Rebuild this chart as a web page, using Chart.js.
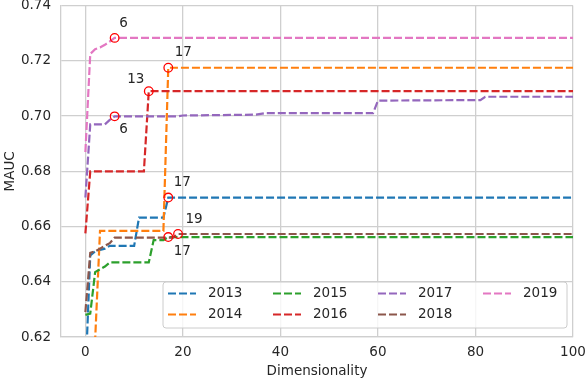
<!DOCTYPE html>
<html><head><meta charset="utf-8">
<script src="https://cdn.jsdelivr.net/npm/chart.js@4/dist/chart.umd.min.js"></script>
<style>html,body{margin:0;padding:0;background:#fff}#wrap{width:586px;height:380px;position:relative}</style>
</head><body><div id="wrap"><canvas id="c" width="586" height="380"></canvas></div>
<script>
// ---- data ----
const years = ['2013', '2014', '2015', '2016', '2017', '2018', '2019'];
const dims2013 = [0, 1, 2, 3, 4, 5, 10, 11, 16, 17, 100];
const mauc2013 = [0.605, 0.6495, 0.651, 0.6515, 0.652, 0.653, 0.653, 0.6632, 0.6632, 0.6705, 0.6705];
const dims2014 = [0, 1, 2, 3, 16, 17, 100];
const mauc2014 = [0.590, 0.600, 0.619, 0.6584, 0.6584, 0.7175, 0.7175];
const dims2015 = [0, 1, 2, 3, 4, 5, 13, 14, 16, 17, 100];
const mauc2015 = [0.628, 0.6285, 0.6435, 0.6445, 0.6455, 0.647, 0.647, 0.6551, 0.6551, 0.6562, 0.6562];
const dims2016 = [0, 1, 12, 13, 100];
const mauc2016 = [0.6575, 0.680, 0.680, 0.709, 0.709];
const dims2017 = [0, 1, 4, 5, 6, 19, 20, 35, 37, 59, 60, 81, 82, 100];
const mauc2017 = [0.6705, 0.697, 0.697, 0.6986, 0.6999, 0.6999, 0.7002, 0.7005, 0.7011, 0.7011, 0.7056, 0.7058, 0.707, 0.707];
const dims2018 = [0, 1, 2, 3, 4, 5, 6, 18, 19, 100];
const mauc2018 = [0.629, 0.6505, 0.651, 0.652, 0.653, 0.654, 0.656, 0.656, 0.6573, 0.6573];
const dims2019 = [0, 1, 2, 3, 4, 5, 6, 100];
const mauc2019 = [0.687, 0.7225, 0.7242, 0.7248, 0.7258, 0.727, 0.7283, 0.7283];
// best dimensionality marked on each curve
const bestDims = [17, 17, 17, 13, 6, 19, 6];
const bestLabels = ['17', '17', '17', '13', '6', '19', '6'];
const xTickValues = [0, 20, 40, 60, 80, 100];
const yTickValues = [0.62, 0.64, 0.66, 0.68, 0.70, 0.72, 0.74];

// ---- styling ----
const colors = ['#1f77b4', '#ff7f0e', '#2ca02c', '#d62728', '#9467bd', '#8c564b', '#e377c2'];
const labelOffsets = [[14, -15], [15, -15], [14, 14], [-13, -12], [9, 13], [16, -14], [9, -14]];
const FONT = 'DejaVu Sans';
const TEXT = '#262626';
const GRID = '#cfcfcf';

const allDims = [dims2013, dims2014, dims2015, dims2016, dims2017, dims2018, dims2019];
const allMauc = [mauc2013, mauc2014, mauc2015, mauc2016, mauc2017, mauc2018, mauc2019];

const datasets = years.map((y, i) => ({
  label: y,
  data: allDims[i].map((d, k) => ({x: d, y: allMauc[i][k]})),
  borderColor: colors[i],
  backgroundColor: colors[i],
  borderWidth: 2.2,
  borderDash: [8, 3],
  pointRadius: 0,
  tension: 0,
  fill: false,
  order: 20 - i
}));
const markerPts = years.map((y, i) => {
  const k = allDims[i].indexOf(bestDims[i]);
  return {x: bestDims[i], y: allMauc[i][k]};
});
datasets.push({
  label: 'best',
  type: 'scatter',
  data: markerPts,
  showLine: false,
  pointRadius: 4.3,
  pointHoverRadius: 4.3,
  pointBorderWidth: 1.3,
  pointBorderColor: '#ff0000',
  pointBackgroundColor: 'rgba(0,0,0,0)',
  order: 0
});

const overlay = {
  id: 'overlay',
  afterDraw(chart) {
    const ctx = chart.ctx, xs = chart.scales.x, ys = chart.scales.y;
    ctx.save();
    // annotation text
    ctx.font = '13.5px "' + FONT + '"';
    ctx.fillStyle = TEXT;
    ctx.textAlign = 'center';
    ctx.textBaseline = 'middle';
    markerPts.forEach((p, i) => {
      const px = xs.getPixelForValue(p.x) + labelOffsets[i][0];
      const py = ys.getPixelForValue(p.y) + labelOffsets[i][1];
      ctx.fillText(bestLabels[i], px, py);
    });
    // legend (4 columns, column-major)
    const bx = 163, by = 282, bw = 404, bh = 46, r = 3;
    ctx.beginPath();
    ctx.moveTo(bx + r, by);
    ctx.arcTo(bx + bw, by, bx + bw, by + bh, r);
    ctx.arcTo(bx + bw, by + bh, bx, by + bh, r);
    ctx.arcTo(bx, by + bh, bx, by, r);
    ctx.arcTo(bx, by, bx + bw, by, r);
    ctx.closePath();
    ctx.fillStyle = 'rgba(255,255,255,0.8)';
    ctx.fill();
    ctx.strokeStyle = '#cccccc';
    ctx.lineWidth = 1;
    ctx.stroke();
    const colX = [168, 273, 378, 483];
    const rowY = [293.5, 314.5];
    ctx.textAlign = 'left';
    years.forEach((y, i) => {
      const c = Math.floor(i / 2), rr = i % 2;
      const lx = colX[c], ly = rowY[rr];
      ctx.beginPath();
      ctx.setLineDash([8, 3]);
      ctx.strokeStyle = colors[i];
      ctx.lineWidth = 2.2;
      ctx.moveTo(lx, ly);
      ctx.lineTo(lx + 28, ly);
      ctx.stroke();
      ctx.setLineDash([]);
      ctx.fillStyle = TEXT;
      ctx.fillText(y, lx + 40, ly);
    });
    ctx.restore();
  }
};

new Chart(document.getElementById('c'), {
  type: 'line',
  data: {datasets},
  options: {
    responsive: false,
    animation: false,
    devicePixelRatio: 1,
    layout: {padding: {top: 4, right: 13, left: 0, bottom: 0}},
    plugins: {legend: {display: false}, tooltip: {enabled: false}},
    scales: {
      x: {
        type: 'linear', min: -5, max: 100,
        afterBuildTicks: s => { s.ticks = xTickValues.map(v => ({value: v})); },
        afterFit: s => { s.height = 43; s.paddingLeft = 0; s.paddingRight = 0; },
        grid: {color: GRID, lineWidth: 1.3, drawTicks: false},
        border: {display: true, color: GRID, width: 1.3},
        ticks: {padding: 7, color: TEXT, font: {family: FONT, size: 13.5}, maxRotation: 0, callback: v => String(v)},
        title: {display: true, text: 'Dimensionality', color: TEXT, font: {family: FONT, size: 13.5}, padding: {top: 0, bottom: 0}}
      },
      y: {
        type: 'linear', min: 0.62, max: 0.74,
        afterBuildTicks: s => { s.ticks = yTickValues.map(v => ({value: v})); },
        afterFit: s => { s.width = 61; s.paddingTop = 0; s.paddingBottom = 0; },
        grid: {color: GRID, lineWidth: 1.3, drawTicks: false},
        border: {display: true, color: GRID, width: 1.3},
        ticks: {padding: 10, color: TEXT, font: {family: FONT, size: 13.5}, callback: v => Number(v).toFixed(2)},
        title: {display: true, text: 'MAUC', color: TEXT, font: {family: FONT, size: 13.5}, padding: {top: 2, bottom: 0}}
      }
    }
  },
  plugins: [overlay]
});
</script>
</body></html>
